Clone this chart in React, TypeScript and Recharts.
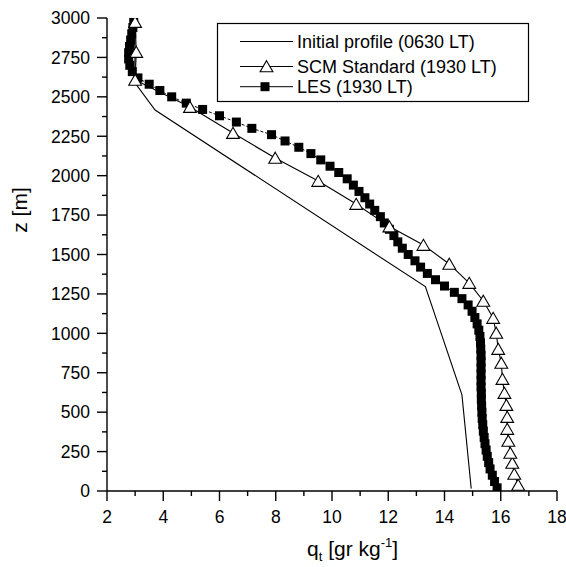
import React from 'react';
import { ScatterChart, Scatter, XAxis, YAxis } from 'recharts';

// ---- Data ----
const initialQ = [14.95, 14.62, 13.32, 3.71, 3.0, 2.98];
const initialZ = [15, 610, 1296, 2416, 2588, 3000];

const scmZ = [38, 108, 178, 241, 317, 393, 469, 545, 621, 710, 812, 900, 1002, 1097, 1205, 1319, 1440, 1560, 1677, 1820, 1966, 2112, 2270, 2435, 2607, 2784, 2974];
const scmQ = [16.62, 16.48, 16.41, 16.34, 16.27, 16.23, 16.23, 16.2, 16.13, 16.06, 16.02, 15.91, 15.84, 15.73, 15.38, 14.88, 14.17, 13.25, 12.04, 10.86, 9.51, 7.98, 6.48, 4.95, 3.0, 3.04, 3.0];

const lesZ = [20, 60, 100, 140, 180, 220, 260, 300, 340, 380, 420, 460, 500, 540, 580, 620, 660, 700, 740, 780, 820, 860, 900, 940, 980, 1020, 1060, 1100, 1140, 1180, 1220, 1260, 1300, 1340, 1380, 1420, 1460, 1500, 1540, 1580, 1620, 1660, 1700, 1740, 1780, 1820, 1860, 1900, 1940, 1980, 2020, 2060, 2100, 2140, 2180, 2220, 2260, 2300, 2340, 2380, 2420, 2460, 2500, 2540, 2580, 2620, 2660, 2700, 2740, 2780, 2820, 2860, 2900, 2940, 2980];
const lesQ = [15.87, 15.78, 15.70, 15.62, 15.57, 15.52, 15.48, 15.44, 15.41, 15.38, 15.36, 15.34, 15.33, 15.32, 15.31, 15.31, 15.30, 15.30, 15.30, 15.30, 15.30, 15.30, 15.29, 15.28, 15.26, 15.22, 15.16, 15.08, 14.98, 14.84, 14.62, 14.35, 14.0, 13.68, 13.39, 13.15, 12.95, 12.71, 12.50, 12.34, 12.20, 12.04, 11.86, 11.72, 11.52, 11.34, 11.17, 10.96, 10.76, 10.54, 10.24, 9.93, 9.60, 9.25, 8.82, 8.33, 7.85, 7.15, 6.60, 6.00, 5.40, 4.82, 4.30, 3.88, 3.50, 3.10, 2.90, 2.81, 2.77, 2.77, 2.80, 2.84, 2.88, 2.92, 2.95];

const xTicks = [2, 3, 4, 5, 6, 7, 8, 9, 10, 11, 12, 13, 14, 15, 16, 17, 18];
const xLabelTicks = [2, 4, 6, 8, 10, 12, 14, 16, 18];
const yTicks = [0, 125, 250, 375, 500, 625, 750, 875, 1000, 1125, 1250, 1375, 1500, 1625, 1750, 1875, 2000, 2125, 2250, 2375, 2500, 2625, 2750, 2875, 3000];
const yLabelTicks = [0, 250, 500, 750, 1000, 1250, 1500, 1750, 2000, 2250, 2500, 2750, 3000];

const legendLabels = ['Initial profile (0630 LT)', 'SCM Standard (1930 LT)', 'LES (1930 LT)'];

const toRows = (qs: number[], zs: number[]) => qs.map((q, i) => ({ q, z: zs[i] }));
const initialData = toRows(initialQ, initialZ);
const scmData = toRows(scmQ, scmZ);
const lesData = toRows(lesQ, lesZ);

const FONT = '"Liberation Sans", Arial, sans-serif';
const TICK_FS = 17.5;

const BottomTick = (props: any) => {
  const { x, y, payload } = props;
  const v = payload.value;
  const major = xLabelTicks.includes(v);
  const len = major ? 10 : 5;
  return (
    <g>
      <line x1={x} y1={y} x2={x} y2={y + len} stroke="#000" strokeWidth={1.4} />
      {major && (
        <text x={x} y={y + 32} textAnchor="middle" fontSize={TICK_FS} fontFamily={FONT} fill="#000">
          {v}
        </text>
      )}
    </g>
  );
};

const LeftTick = (props: any) => {
  const { x, y, payload } = props;
  const v = payload.value;
  const major = yLabelTicks.includes(v);
  const len = major ? 10 : 5;
  return (
    <g>
      <line x1={x - len} y1={y} x2={x} y2={y} stroke="#000" strokeWidth={1.4} />
      {major && (
        <text x={x - 17} y={y + 6.3} textAnchor="end" fontSize={TICK_FS} fontFamily={FONT} fill="#000">
          {v}
        </text>
      )}
    </g>
  );
};

const TopTick = (props: any) => {
  const { x, y, payload } = props;
  const major = xLabelTicks.includes(payload.value);
  const len = major ? 7 : 5;
  return <line x1={x} y1={y} x2={x} y2={y + len} stroke="#000" strokeWidth={1.4} />;
};

const RightTick = (props: any) => {
  const { x, y, payload } = props;
  const major = yLabelTicks.includes(payload.value);
  const len = major ? 10 : 6;
  return <line x1={x - len} y1={y} x2={x} y2={y} stroke="#000" strokeWidth={1.4} />;
};

const XTitle = () => (
  <text x={307} y={556} fontSize={21} fontFamily={FONT} fill="#000">
    <tspan>q</tspan>
    <tspan fontSize={13} dy={5}>t</tspan>
    <tspan dy={-5}> [gr kg</tspan>
    <tspan fontSize={13} dy={-9}>-1</tspan>
    <tspan dy={9}>]</tspan>
  </text>
);

const YTitle = () => (
  <text x={27} y={210} fontSize={21} fontFamily={FONT} fill="#000" textAnchor="middle" transform="rotate(-90, 27, 210)">
    z [m]
  </text>
);

const Square = (p: any) => <rect x={p.cx - 4.5} y={p.cy - 4.5} width={9} height={9} fill="#000" />;
const Triangle = (p: any) => (
  <path
    d={`M${p.cx},${p.cy - 5.8}L${p.cx + 6.4},${p.cy + 5.3}L${p.cx - 6.4},${p.cy + 5.3}Z`}
    fill="#fff"
    stroke="#000"
    strokeWidth={1.1}
  />
);
const Nothing = () => <g />;

const LegendBox = () => {
  const rowsY = [41.5, 66.5, 86.7];
  return (
    <svg width={566} height={567} style={{ position: 'absolute', left: 0, top: 0, pointerEvents: 'none' }}>
      <rect x={217.5} y={23.5} width={311} height={78} fill="#fff" stroke="#000" strokeWidth={1.2} />
      {legendLabels.map((lab, i) => (
        <g key={lab}>
          <line x1={240} x2={293} y1={rowsY[i]} y2={rowsY[i]} stroke="#000" strokeWidth={1} />
          {i === 1 && <Triangle cx={266.5} cy={rowsY[i]} />}
          {i === 2 && <Square cx={265} cy={rowsY[i]} />}
          <text x={297} y={rowsY[i] + 6.5} fontSize={18} fontFamily={FONT} fill="#000">
            {lab}
          </text>
        </g>
      ))}
    </svg>
  );
};

export default function App() {
  return (
    <div style={{ position: 'absolute', left: 0, top: 0, width: 566, height: 567, background: '#fff' }}>
      <ScatterChart width={566} height={567} margin={{ top: 18, right: 9, bottom: 0, left: 0 }}>
        <XAxis
          xAxisId="b"
          type="number"
          dataKey="q"
          domain={[2, 18]}
          allowDataOverflow
          ticks={xTicks}
          interval={0}
          height={76}
          tickSize={0}
          tickMargin={0}
          tickLine={false}
          axisLine={{ stroke: '#000', strokeWidth: 1.4 }}
          tick={<BottomTick />}
          label={<XTitle />}
        />
        <XAxis
          xAxisId="t"
          orientation="top"
          type="number"
          dataKey="q"
          domain={[2, 18]}
          allowDataOverflow
          ticks={xTicks}
          interval={0}
          height={0}
          tickSize={0}
          tickMargin={0}
          tickLine={false}
          axisLine={{ stroke: '#000', strokeWidth: 1.4 }}
          tick={<TopTick />}
        />
        <YAxis
          yAxisId="l"
          type="number"
          dataKey="z"
          domain={[0, 3000]}
          allowDataOverflow
          ticks={yTicks}
          interval={0}
          width={107}
          tickSize={0}
          tickMargin={0}
          tickLine={false}
          axisLine={{ stroke: '#000', strokeWidth: 1.4 }}
          tick={<LeftTick />}
          label={<YTitle />}
        />
        <YAxis
          yAxisId="r"
          orientation="right"
          type="number"
          dataKey="z"
          domain={[0, 3000]}
          allowDataOverflow
          ticks={yTicks}
          interval={0}
          width={0}
          tickSize={0}
          tickMargin={0}
          tickLine={false}
          axisLine={{ stroke: '#000', strokeWidth: 1.4 }}
          tick={<RightTick />}
        />
        <Scatter xAxisId="t" yAxisId="r" data={initialData} shape={Nothing} isAnimationActive={false} />
        <Scatter
          xAxisId="b"
          yAxisId="l"
          data={initialData}
          line={{ stroke: '#000', strokeWidth: 1.1 }}
          lineType="joint"
          shape={Nothing}
          isAnimationActive={false}
        />
        <Scatter
          xAxisId="b"
          yAxisId="l"
          data={lesData}
          line={{ stroke: '#000', strokeWidth: 1, strokeDasharray: '3 2' }}
          lineType="joint"
          shape={Square}
          isAnimationActive={false}
        />
        <Scatter
          xAxisId="b"
          yAxisId="l"
          data={scmData}
          line={{ stroke: '#000', strokeWidth: 1.1 }}
          lineType="joint"
          shape={Triangle}
          isAnimationActive={false}
        />
      </ScatterChart>
      <LegendBox />
    </div>
  );
}
